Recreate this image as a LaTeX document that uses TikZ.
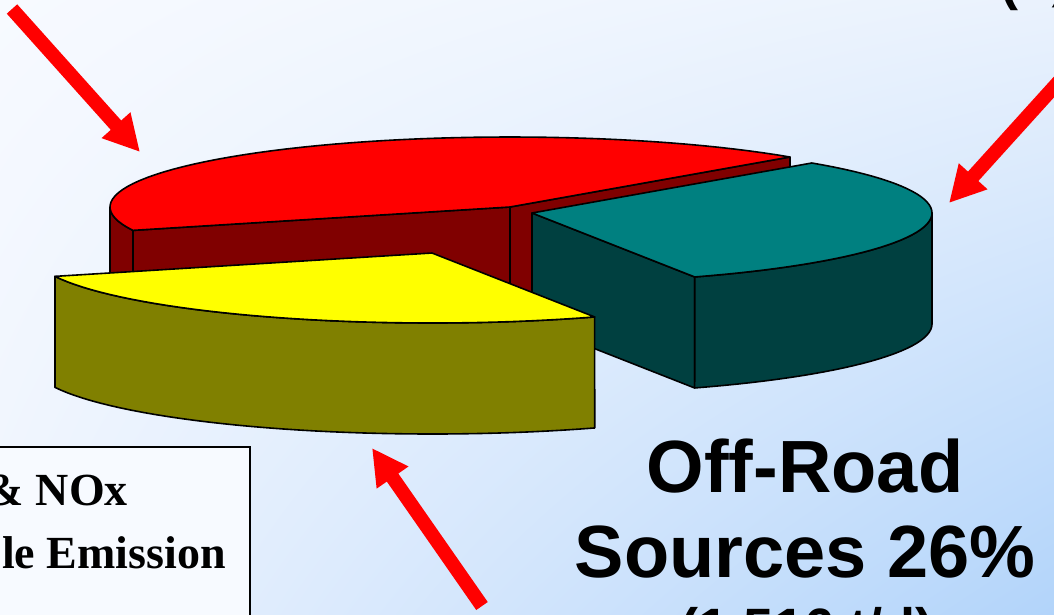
\documentclass[tikz,border=0pt]{standalone}
\usepackage{fontspec}
\setmainfont{Liberation Serif}
\newfontfamily\arialfont{Liberation Sans}
\usetikzlibrary{arrows.meta, shadings}

\definecolor{pieRed}{RGB}{255,0,0}
\definecolor{pieRedSide}{RGB}{128,0,0}
\definecolor{pieTeal}{RGB}{0,128,128}
\definecolor{pieTealSide}{RGB}{0,64,64}
\definecolor{pieYellow}{RGB}{255,255,0}
\definecolor{pieYellowSide}{RGB}{128,128,0}
\definecolor{bgTopLeft}{RGB}{247,250,255}
\definecolor{bgTopRight}{RGB}{234,242,253}
\definecolor{bgBotLeft}{RGB}{238,244,254}
\definecolor{bgBotRight}{RGB}{178,212,250}

\begin{document}
\begin{tikzpicture}[x=1pt, y=-1pt,
            face/.style={draw=black, line width=1.6pt, line join=round},
            pointer/.style={red, line width=14pt, -{Triangle[length=36pt, width=36pt]}},
            bigtxt/.style={font=\arialfont\bfseries\fontsize{74}{85}\selectfont, inner sep=0pt, align=center},
            smalltxt/.style={font=\arialfont\bfseries\fontsize{54}{60}\selectfont, inner sep=0pt},
            boxtxt/.style={font=\bfseries\fontsize{46}{52}\selectfont, inner sep=0pt}]
        \useasboundingbox (0,0) rectangle (1054,614);
        \shade[upper left=bgTopLeft, upper right=bgTopRight,
               lower left=bgBotLeft, lower right=bgBotRight] (0,0) rectangle (1054,614);

        % red slice, centre (510,207)
        \fill[pieRedSide, face] plot[domain=180:199.5, samples=20] ({510+400*cos(\x)},{207-70*sin(\x)})
            -- plot[domain=199.5:180, samples=20] ({510+400*cos(\x)},{318-70*sin(\x)}) -- cycle;
        \fill[pieRedSide, face] (133,230.4) -- (510,207) -- (510,318) -- (133,341.4) -- cycle;
        \fill[pieRedSide, face] (510,207) -- (790,157) -- (790,268) -- (510,318) -- cycle;
        \fill[pieRed, face] (510,207) -- plot[domain=45.6:199.5, samples=60] ({510+400*cos(\x)},{207-70*sin(\x)}) -- cycle;

        % teal slice, centre (532,213)
        \fill[pieTealSide, face] (532,213) -- (694.7,277) -- (694.7,388) -- (532,324) -- cycle;
        \fill[pieTealSide, face] plot[domain=-66:0, samples=30] ({532+400*cos(\x)},{213-70*sin(\x)})
            -- plot[domain=0:-66, samples=30] ({532+400*cos(\x)},{324-70*sin(\x)}) -- cycle;
        \fill[pieTeal, face] (532,213) -- plot[domain=-66:45.6, samples=50] ({532+400*cos(\x)},{213-70*sin(\x)}) -- cycle;

        % yellow slice, centre (432,253)
        \fill[pieYellowSide, face] plot[domain=199.5:294, samples=40] ({432+400*cos(\x)},{253-70*sin(\x)})
            -- plot[domain=294:199.5, samples=40] ({432+400*cos(\x)},{364-70*sin(\x)}) -- cycle;
        \fill[pieYellow, face] (432,253) -- plot[domain=199.5:294, samples=40] ({432+400*cos(\x)},{253-70*sin(\x)}) -- cycle;

        % pointers
        \coordinate (redtail) at (12,9);
        \coordinate (redtip) at (140,152);
        \coordinate (tealtail) at (1082,56);
        \coordinate (tealtip) at (949,203);
        \coordinate (yellowtail) at (482,606);
        \coordinate (yellowtip) at (372,448);
        \draw[pointer] (redtail) -- (redtip);
        \draw[pointer] (tealtail) -- (tealtip);
        \draw[pointer] (yellowtail) -- (yellowtip);

        % legend box
        \draw[line width=2.5pt, fill=bgTopLeft] (-10,447) rectangle (250,640);
        \node[boxtxt, anchor=base east] (boxone) at (128,505) {\& NOx};
        \node[boxtxt, anchor=base east] (boxtwo) at (226,568) {le Emission};

        \node[bigtxt, anchor=base] (offroad) at (805,577) {Off-Road\\Sources 26\%};
        \node[smalltxt, anchor=base] (offtons) at (807,646) {(1,516 t/d)};
        \node[smalltxt, anchor=base west] (ontons) at (1000,-1) {(1,};
    \end{tikzpicture}
\end{document}
